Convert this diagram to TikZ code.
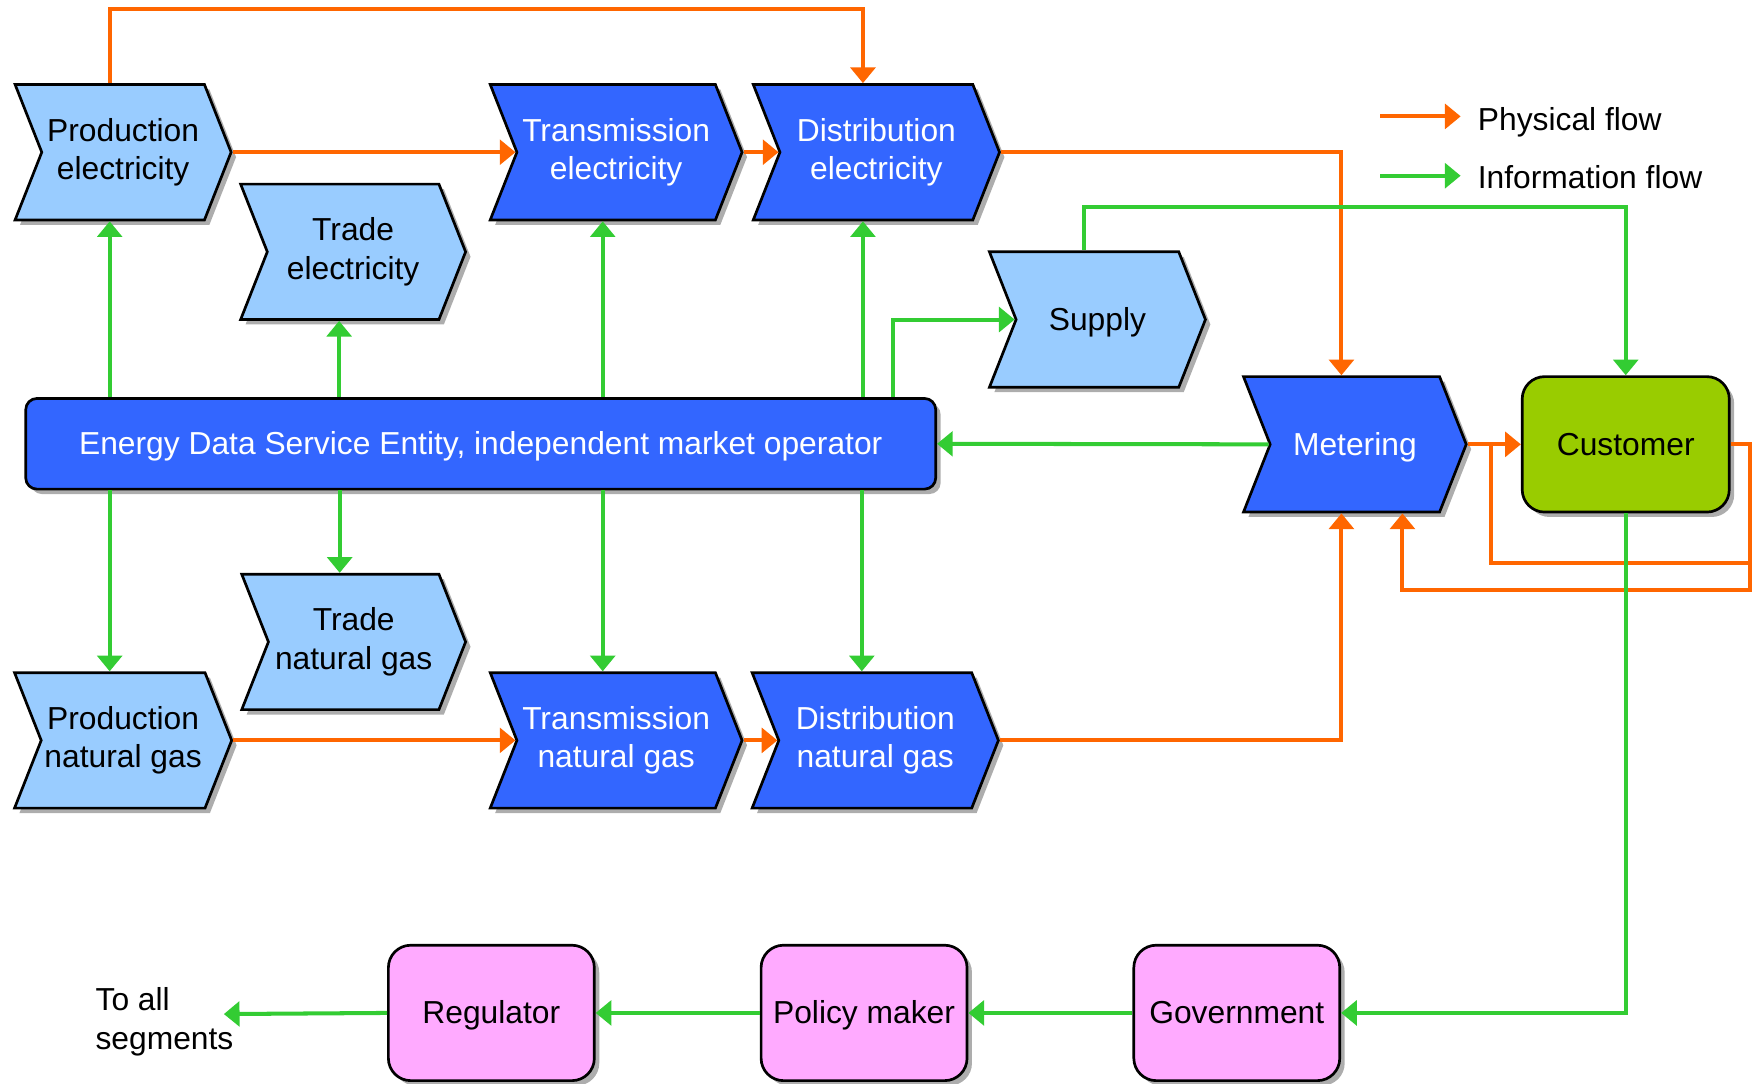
\documentclass[tikz,border=0pt]{standalone}
\usepackage{fontspec}
\setmainfont{Liberation Sans}
\usetikzlibrary{shapes.symbols,shadows,arrows.meta}

\definecolor{physorange}{RGB}{255,102,0}
\definecolor{infogreen}{RGB}{51,204,51}
\definecolor{lightblue}{RGB}{153,204,255}
\definecolor{darkblue}{RGB}{51,102,255}
\definecolor{custgreen}{RGB}{153,204,0}
\definecolor{govpink}{RGB}{255,170,255}

\newcommand{\fontstrut}{\rule[-0.212em]{0pt}{1.117em}}

\tikzset{
  shade/.style={drop shadow={shadow xshift=2.2pt,shadow yshift=-2.2pt,fill=black!32,opacity=1}},
  chev/.style={shape=signal,signal from=west,signal to=east,signal pointer angle=137,draw=black,line width=1.2pt,minimum height=60.5pt,inner sep=0pt,align=center,shade},
  lite/.style={chev,fill=lightblue,text=black},
  dark/.style={chev,fill=darkblue,text=white},
  rbox/.style={draw=black,line width=1.2pt,rounded corners=10pt,minimum width=92pt,minimum height=60.5pt,inner sep=0pt,align=center,shade},
  phys/.style={draw=physorange,line width=1.8pt,-{Triangle[length=7pt,width=11pt]}},
  physline/.style={draw=physorange,line width=1.8pt},
  info/.style={draw=infogreen,line width=1.8pt,-{Triangle[length=7pt,width=11pt]}},
}

\begin{document}
\begin{tikzpicture}[x=0.5pt,y=0.5pt,yscale=-1,every node/.style={font=\fontsize{14.2}{17.1}\selectfont,execute at begin node=\fontstrut,execute at end node=\fontstrut}]
\useasboundingbox (0,0) rectangle (1568,968);

% electricity chain
\node[lite,minimum width=96.5pt] (pe) at (110,136) {Production\\electricity};
\node[lite,minimum width=100.5pt] (te) at (315.5,225) {Trade\\electricity};
\node[dark,minimum width=112.5pt] (tre) at (550.5,136) {Transmission\\electricity};
\node[dark,minimum width=110pt] (de) at (783,136) {Distribution\\electricity};
\node[lite,minimum width=96.5pt] (sup) at (980.5,285.5) {Supply};
\node[dark,minimum width=99.5pt] (met) at (1210.5,397) {Metering};
\node[rbox,fill=custgreen,minimum width=92.5pt] (cus) at (1452.5,397) {Customer};

% market operator
\node[draw=black,line width=1.2pt,rounded corners=5pt,fill=darkblue,text=white,minimum width=406.5pt,minimum height=40.5pt,inner sep=0pt,shade] (eds) at (429.5,396.5) {Energy Data Service Entity, independent market operator};

% natural gas chain
\node[lite,minimum width=100pt] (tg) at (316,573.5) {Trade\\natural gas};
\node[lite,minimum width=97pt] (pg) at (110,661.5) {Production\\natural gas};
\node[dark,minimum width=112.5pt] (trg) at (550.5,661.5) {Transmission\\natural gas};
\node[dark,minimum width=110pt] (dg) at (782,661.5) {Distribution\\natural gas};

% authorities
\node[rbox,fill=govpink] (reg) at (439,905) {Regulator};
\node[rbox,fill=govpink] (pol) at (772,905) {Policy maker};
\node[rbox,fill=govpink] (gov) at (1105,905) {Government};
\node[anchor=west,align=left,inner sep=0pt] (toall) at (85,913) {To all\\segments};
\coordinate (toallend) at (200,906);

% legend
\node[anchor=west,inner sep=0pt] (lgphys) at (1320,107) {Physical flow};
\node[anchor=west,inner sep=0pt] (lginfo) at (1320,159) {Information flow};

% physical flow
\draw[phys] ([xshift=-6pt]pe.north) -- ++(0,-66) -| ([xshift=-6pt]de.north);
\draw[phys] (pe.east) -- (tre.west);
\draw[phys] (tre.east) -- (de.west);
\draw[phys] (pg.east) -- (trg.west);
\draw[phys] (trg.east) -- (dg.west);
\draw[phys] (de.east) -| ([xshift=-6pt]met.north);
\draw[phys] (dg.east) -| ([xshift=-6pt]met.south);
\draw[phys] (met.east) -- (cus.west);
\draw[physline] (cus.east) -- ++(17,0) |- ([xshift=-13.5pt,yshift=53pt]cus.west) -- ([xshift=-13.5pt]cus.west);
\draw[phys] (cus.east) -- ++(17,0) |- ([xshift=21.25pt,yshift=34pt]met.south) -- ([xshift=21.25pt]met.south);

% information flow
\draw[info] ([xshift=-6pt]pe.south |- eds.north) -- ([xshift=-6pt]pe.south);
\draw[info] ([xshift=-6.25pt]te.south |- eds.north) -- ([xshift=-6.25pt]te.south);
\draw[info] ([xshift=-6pt]tre.south |- eds.north) -- ([xshift=-6pt]tre.south);
\draw[info] ([xshift=-6pt]de.south |- eds.north) -- ([xshift=-6pt]de.south);
\draw[info] ([xshift=-19.5pt]eds.north east) |- (sup.west);
\draw[info] ([xshift=-6pt]sup.north) -- ++(0,-39) -| (cus.north);
\draw[info] (met.west) -- (eds.east);
\draw[info] ([xshift=-6pt]pg.north |- eds.south) -- ([xshift=-6pt]pg.north);
\draw[info] ([xshift=-6.25pt]tg.north |- eds.south) -- ([xshift=-6.25pt]tg.north);
\draw[info] ([xshift=-6pt]trg.north |- eds.south) -- ([xshift=-6pt]trg.north);
\draw[info] ([xshift=-6pt]dg.north |- eds.south) -- ([xshift=-6pt]dg.north);
\draw[info] (cus.south) |- (gov.east);
\draw[info] (gov.west) -- (pol.east);
\draw[info] (pol.west) -- (reg.east);
\draw[info] (reg.west) -- (toallend);

% legend arrows
\draw[phys] ([xshift=-43.5pt,yshift=-1.5pt]lgphys.west) -- ([xshift=-7.5pt,yshift=-1.5pt]lgphys.west);
\draw[info] ([xshift=-43.5pt,yshift=-1pt]lginfo.west) -- ([xshift=-7.5pt,yshift=-1pt]lginfo.west);
\end{tikzpicture}
\end{document}
